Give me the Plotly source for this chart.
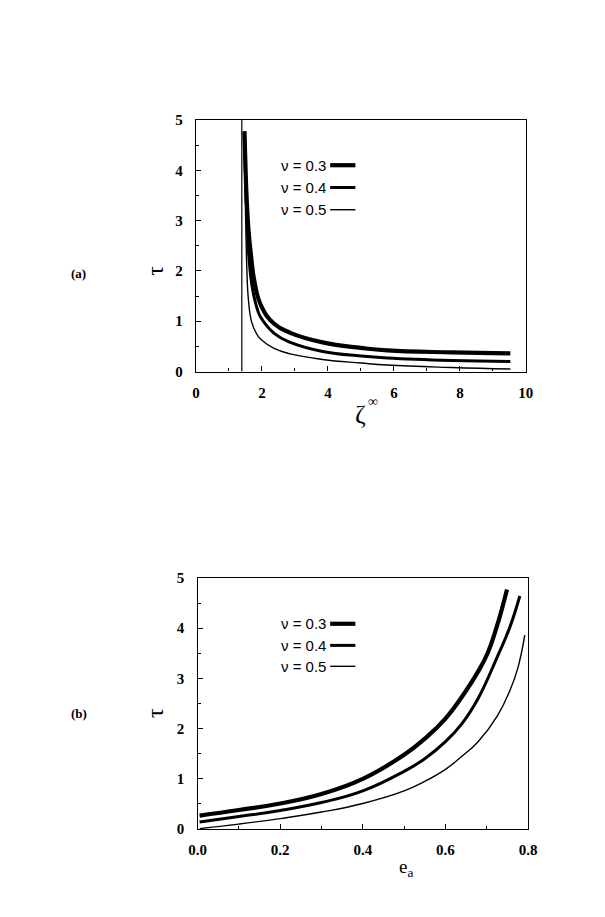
import plotly.graph_objects as go

# ---------------- data: panel (a) ----------------
zeta_03 = [1.47, 1.50, 1.54, 1.60, 1.67, 1.78, 1.98, 2.37, 2.86, 3.84, 5.0, 5.8, 7.76, 9.53]
tau_a03 = [4.78, 4.1, 3.4, 2.75, 2.3, 1.76, 1.3, 0.95, 0.77, 0.58, 0.47, 0.42, 0.38, 0.36]
zeta_04 = [1.47, 1.50, 1.55, 1.59, 1.65, 1.735, 1.88, 1.98, 2.37, 2.86, 3.84, 5.0, 5.8, 7.76, 9.53]
tau_a04 = [4.7, 3.9, 3.0, 2.4, 1.95, 1.57, 1.2, 1.06, 0.76, 0.58, 0.40, 0.31, 0.27, 0.22, 0.20]
zeta_05 = [1.47, 1.49, 1.52, 1.54, 1.59, 1.69, 1.84, 1.98, 2.37, 2.86, 3.84, 5.0, 5.8, 7.76, 9.53]
tau_a05 = [4.6, 3.6, 2.6, 2.1, 1.43, 0.98, 0.75, 0.63, 0.46, 0.35, 0.24, 0.17, 0.13, 0.08, 0.05]
asym_x = [1.39, 1.39]
asym_y = [0, 5]

# ---------------- data: panel (b) ----------------
ea_03 = [0.005, 0.1, 0.2, 0.3, 0.4, 0.5, 0.55, 0.6, 0.647, 0.68, 0.702, 0.725, 0.749]
tau_b03 = [0.27, 0.38, 0.51, 0.70, 1.0, 1.48, 1.8, 2.2, 2.72, 3.15, 3.5, 4.05, 4.77]
ea_04 = [0.005, 0.1, 0.2, 0.3, 0.4, 0.5, 0.55, 0.6, 0.64, 0.679, 0.726, 0.755, 0.78]
tau_b04 = [0.14, 0.25, 0.37, 0.53, 0.76, 1.15, 1.4, 1.74, 2.1, 2.6, 3.44, 4.0, 4.64]
ea_05 = [0.005, 0.1, 0.2, 0.3, 0.4, 0.5, 0.55, 0.6, 0.64, 0.679, 0.726, 0.757, 0.775, 0.792]
tau_b05 = [0.01, 0.10, 0.21, 0.34, 0.51, 0.76, 0.95, 1.19, 1.45, 1.74, 2.26, 2.78, 3.2, 3.86]

nu_labels = ["\u03bd = 0.3", "\u03bd = 0.4", "\u03bd = 0.5"]
widths = [4.2, 3.0, 1.4]

fig = go.Figure()

def add(x, y, w, xa, ya, smooth=1.3):
    fig.add_trace(go.Scatter(x=x, y=y, mode="lines", xaxis=xa, yaxis=ya,
                             line=dict(color="black", width=w, shape="spline", smoothing=smooth),
                             showlegend=False, hoverinfo="skip"))

add(zeta_03, tau_a03, widths[0], "x", "y")
add(zeta_04, tau_a04, widths[1], "x", "y")
add(zeta_05, tau_a05, widths[2], "x", "y")
fig.add_trace(go.Scatter(x=asym_x, y=asym_y, mode="lines", xaxis="x", yaxis="y",
                         line=dict(color="black", width=1.2), showlegend=False, hoverinfo="skip"))
add(ea_03, tau_b03, widths[0], "x2", "y2")
add(ea_04, tau_b04, widths[1], "x2", "y2")
add(ea_05, tau_b05, widths[2], "x2", "y2")

tickfont = dict(family="Liberation Serif", size=15, color="black", weight="bold")
common = dict(showgrid=False, zeroline=False, showline=True, linecolor="black", linewidth=1.3,
              mirror=True, ticks="inside", ticklen=5, tickcolor="black", tickwidth=1,
              tickfont=tickfont)

W, H = 605, 917
def px(xp): return xp / W
def py(yp): return 1 - yp / H

def minor(vals):
    return dict(tickvals=vals, ticks="inside", ticklen=3, tickcolor="black", tickwidth=1)

fig.update_layout(
    width=W, height=H, margin=dict(l=0, r=0, t=0, b=0),
    paper_bgcolor="white", plot_bgcolor="white",
    xaxis=dict(domain=[px(192.7), px(532.7)], range=[0, 10], tickvals=[0, 2, 4, 6, 8, 10],
               minor=minor([1, 3, 5, 7, 9]), ticklabelstandoff=7, anchor="y", **common),
    yaxis=dict(domain=[py(370), py(114)], range=[0, 5], tickvals=[0, 1, 2, 3, 4, 5],
               minor=minor([0.5, 1.5, 2.5, 3.5, 4.5]), ticklabelstandoff=9, anchor="x", **common),
    xaxis2=dict(domain=[px(194.3), px(535)], range=[0, 0.8], tickvals=[0, 0.2, 0.4, 0.6, 0.8],
                ticktext=["0.0", "0.2", "0.4", "0.6", "0.8"],
                minor=minor([0.1, 0.3, 0.5, 0.7]), ticklabelstandoff=7, anchor="y2", **common),
    yaxis2=dict(domain=[py(835.7), py(580)], range=[0, 5], tickvals=[0, 1, 2, 3, 4, 5],
                minor=minor([0.5, 1.5, 2.5, 3.5, 4.5]), ticklabelstandoff=9, anchor="x2", **common),
)

ann = []
shapes = []
serif = "Liberation Serif"

def text(x, y, t, size, family=serif, xanchor="center", angle=0):
    ann.append(dict(x=px(x), y=py(y), xref="paper", yref="paper", text=t, showarrow=False,
                    xanchor=xanchor, yanchor="middle", textangle=angle,
                    font=dict(family=family, size=size, color="black")))

# panel labels
text(72, 270, "<b>(a)</b>", 13)
text(72, 718, "<b>(b)</b>", 13)
# y titles
text(151, 268, "\u03c4", 24, angle=-90)
text(151, 718, "\u03c4", 24, angle=-90)
# x titles
text(362, 414, "\u03b6", 26)
text(375, 400, "\u221e", 14)
text(409, 875, "e<sub>a</sub>", 19)

# legends
leg_a = [160, 182.7, 205.3]
leg_b = [626.7, 648.7, 670]
for rows in (leg_a, leg_b):
    for i, yy in enumerate(rows):
        text(329, yy, nu_labels[i], 15, family="Liberation Sans", xanchor="right")
        shapes.append(dict(type="line", xref="paper", yref="paper", x0=px(331), x1=px(357),
                           y0=py(yy), y1=py(yy), line=dict(color="black", width=widths[i])))

fig.update_layout(annotations=ann, shapes=shapes)
fig.write_html("out.html")
